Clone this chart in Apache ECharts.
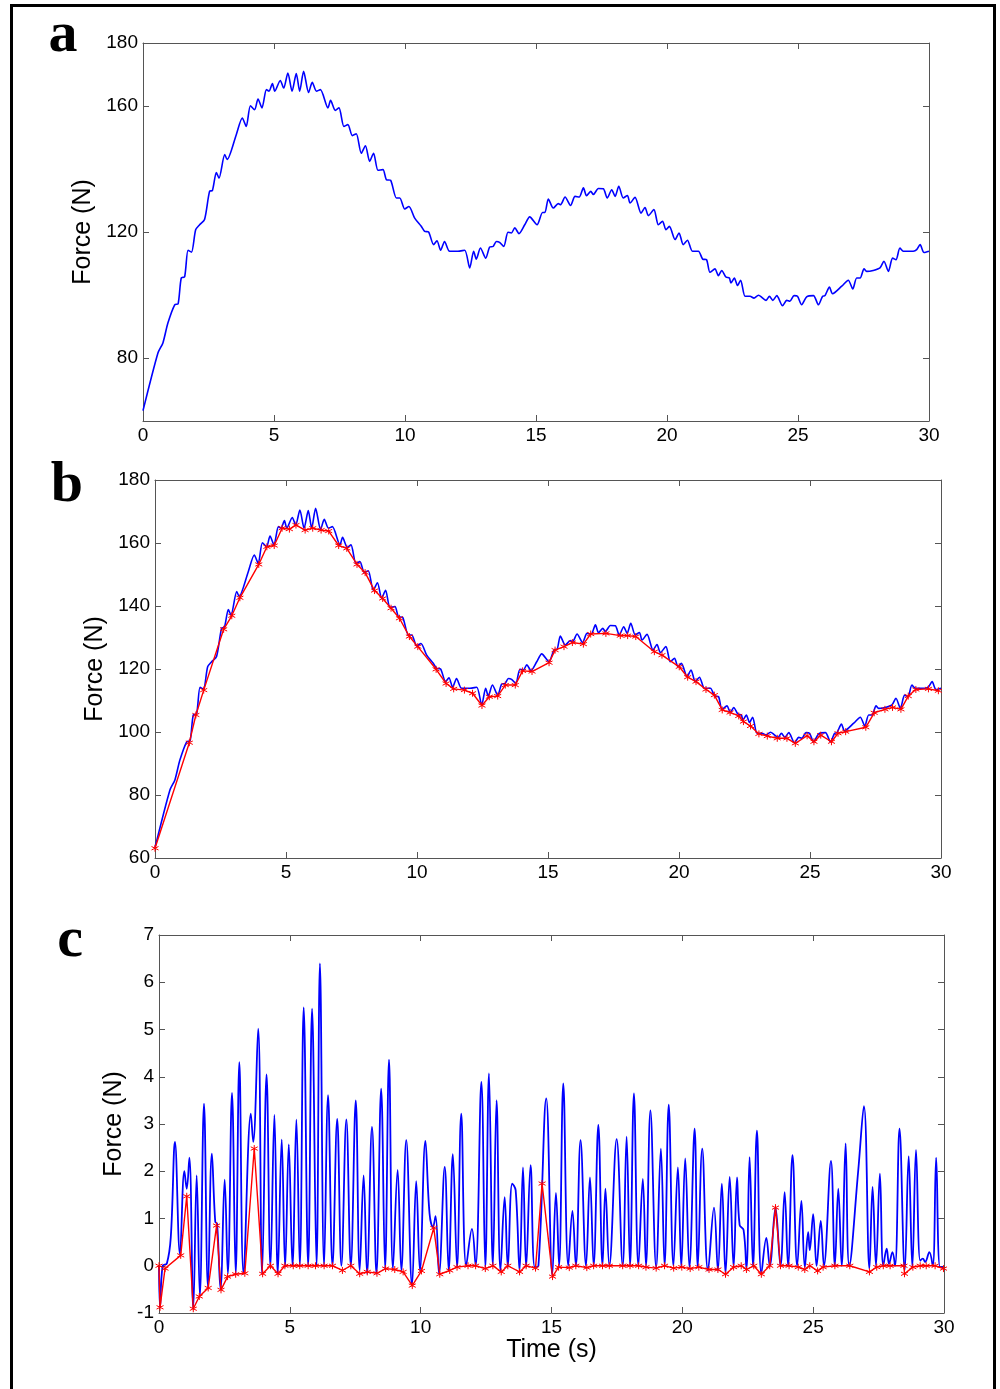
<!DOCTYPE html>
<html>
<head>
<meta charset="utf-8">
<script src="https://cdn.jsdelivr.net/npm/echarts@6/dist/echarts.min.js"></script>
<style>
html,body{margin:0;padding:0;background:#fff;}
#chart{width:1000px;height:1389px;}
</style>
</head>
<body>
<div id="chart"></div>
<script>
// ---- Data ----
const xTicks = [0, 5, 10, 15, 20, 25, 30];
const aTickLabels = [80, 120, 160, 180];

// Measured force (blue), panels a and b
const forceTime = [0,0.57,0.76,0.95,1.21,1.34,1.46,1.59,1.72,1.85,2.01,2.16,2.35,2.54,2.65,2.80,2.90,3.12,3.21,3.56,3.79,3.94,4.10,4.26,4.39,4.54,4.71,4.81,4.94,5.03,5.24,5.37,5.53,5.69,5.85,5.98,6.13,6.32,6.46,6.62,6.77,7.06,7.16,7.34,7.48,7.67,7.82,7.99,8.14,8.33,8.49,8.65,8.80,8.97,9.16,9.29,9.45,9.67,9.80,9.99,10.15,10.37,10.62,10.75,10.90,11.09,11.22,11.36,11.51,11.70,12.02,12.28,12.47,12.62,12.72,12.88,13.08,13.23,13.36,13.49,13.61,13.77,13.93,14.06,14.19,14.35,14.57,14.76,15.04,15.25,15.34,15.47,15.66,15.85,15.94,16.11,16.32,16.49,16.65,16.81,16.93,17.09,17.19,17.38,17.57,17.72,17.89,18.02,18.16,18.33,18.49,18.59,18.78,19.01,19.16,19.29,19.50,19.67,19.83,19.96,20.09,20.31,20.46,20.62,20.78,20.97,21.20,21.36,21.51,21.64,21.83,21.96,22.09,22.25,22.38,22.44,22.57,22.69,22.81,22.98,23.17,23.32,23.49,23.78,23.91,24.04,24.19,24.41,24.57,24.69,24.85,24.98,25.14,25.33,25.59,25.78,25.94,26.03,26.20,26.32,26.67,26.92,27.09,27.24,27.37,27.52,27.62,27.87,28.13,28.28,28.45,28.61,28.74,28.89,29.02,29.40,29.53,29.66,29.81,30.0];
const forceValue = [63.3,81.6,84.8,91.1,96.9,97.2,105.4,105.8,114.2,113.6,120.7,122.3,124,132.9,133.2,138.9,137.1,144.6,143,150.9,156.2,153.5,160.1,158.8,162.2,159.4,165.2,164.7,167.1,164.7,168.1,165.7,170.5,164.7,170.3,164.7,171,164.3,167.5,164.7,165.2,159.4,161.8,158.6,159.4,153.5,154.1,150.6,151.2,145,147.4,142.4,145,139.6,139.8,136.6,136.4,130.8,130.8,127.3,128.1,124.4,121.8,120.2,120,116,117.2,114.2,117,113.9,113.9,114.2,108.6,113.9,111.4,114.9,111.7,115.2,115.4,117,116.7,115.4,119.9,119.7,121.3,119.5,122.3,124.8,122.3,126.2,126.2,130.5,127.6,129,128.7,131.1,128.4,131.3,131.1,134,131.5,132.9,131.9,133.8,133.7,130.8,133.4,131.3,134.5,130.8,131.6,129.2,131,126,127.8,125.2,127.1,122.3,123.4,120.7,121.8,117.6,119.7,116,117.4,113.9,113.9,111.4,111.2,107.2,108.3,106.1,107.8,105.7,105.4,103.8,105.4,103,104.7,99.6,99.6,99,99.9,98.3,99.6,98.3,99.8,96.6,98.3,98,99.8,99.6,96.9,99.4,99.8,96.9,99.6,99.8,102.5,100.4,102.8,104.7,101.9,105.4,105.4,108.3,107.5,107.8,108.6,110.7,107.5,111.7,111.2,114.9,113.9,113.9,114.4,116,113.5,113.9];

// Lower envelope (red stars), panel b
const envTime = [0,1.31,1.56,1.86,2.62,2.93,3.24,3.96,4.27,4.55,4.85,5.13,5.38,5.73,6.02,6.34,6.63,7.01,7.32,7.71,8.02,8.38,8.69,9.01,9.33,9.71,10.03,10.73,11.11,11.40,11.81,12.12,12.48,12.76,13.08,13.37,13.75,14.03,14.39,15.04,15.27,15.61,15.93,16.35,16.63,17.21,17.76,18.04,18.35,19.06,19.35,20.01,20.33,20.65,21.03,21.35,21.65,21.95,22.28,22.46,22.73,23.05,23.37,23.75,24.12,24.44,24.89,25.15,25.41,25.82,26.07,26.36,27.13,27.45,27.86,28.15,28.47,28.75,29.04,29.52,29.90];
const envValue = [63.1,96.6,105.4,113.3,132.6,136.9,142.6,153.2,158.8,159.2,164.7,164.4,165.7,164.1,164.7,164.1,163.8,159.2,158.3,153.2,150.6,144.9,142.4,139.3,136.1,130.3,127.1,119.9,115.4,113.7,113.3,112.3,108.4,111.2,111.4,114.9,114.9,119.4,119.2,122,126,127.1,128.4,127.9,131.1,131.3,130.6,130.6,130.3,125.5,124.4,120.7,117.4,116,113.5,111.7,107,106.2,105.1,103.3,101.9,99.4,98.7,98,98,96.4,98.8,96.9,99,96.9,99.6,100.1,101.5,106.1,107.2,107.8,107.2,111.4,113.5,113.7,113.1];

// Oscillation (blue), panel c
const oscTime = [0,0.04,0.14,0.30,0.45,0.61,0.80,0.97,1.06,1.16,1.31,1.44,1.56,1.72,1.87,2.02,2.15,2.22,2.35,2.51,2.63,2.79,2.93,3.07,3.23,3.51,3.60,3.79,3.94,4.11,4.26,4.41,4.54,4.69,4.82,4.96,5.10,5.25,5.38,5.53,5.70,5.85,6.02,6.15,6.31,6.46,6.63,6.81,6.97,7.16,7.33,7.52,7.67,7.82,7.95,8.14,8.31,8.49,8.64,8.79,8.94,9.12,9.26,9.45,9.67,9.83,9.97,10.18,10.34,10.47,10.57,10.70,10.92,11.07,11.23,11.39,11.55,11.74,11.96,12.10,12.32,12.47,12.61,12.76,12.90,13.05,13.21,13.33,13.50,13.63,13.78,13.91,14.03,14.20,14.36,14.50,14.80,15.03,15.17,15.29,15.45,15.64,15.80,15.93,16.11,16.32,16.47,16.61,16.79,16.95,17.06,17.21,17.49,17.72,17.87,18.00,18.15,18.32,18.49,18.61,18.78,19.00,19.18,19.32,19.48,19.66,19.83,19.96,20.11,20.27,20.47,20.59,20.76,20.98,21.21,21.36,21.51,21.65,21.81,21.96,22.09,22.19,22.34,22.45,22.57,22.70,22.85,23.02,23.21,23.34,23.56,23.75,23.91,24.04,24.21,24.39,24.55,24.68,24.81,24.87,25.00,25.13,25.29,25.41,25.68,25.83,25.96,26.09,26.24,26.38,26.72,26.94,27.15,27.27,27.40,27.55,27.68,27.81,27.90,28.03,28.13,28.30,28.50,28.65,28.79,28.93,29.09,29.19,29.28,29.44,29.57,29.70,29.85,30.0];
const oscValue = [0,-0.88,0,0.05,0.6,2.62,0.25,2.0,1.63,2.29,-0.91,1.91,-0.63,3.43,-0.45,2.37,0.93,0.89,-0.49,1.82,-0.17,3.66,-0.17,4.31,-0.17,3.22,2.62,5.02,-0.17,4.05,-0.03,3.19,-0.17,2.67,-0.03,2.57,0,3.09,0,5.47,0,5.44,0,6.40,0,3.61,0,3.11,0,3.10,0,3.50,-0.1,1.91,-0.17,2.94,-0.17,3.75,-0.06,4.36,-0.06,2.03,-0.1,2.66,-0.42,1.79,-0.1,2.64,1.10,0.82,1.05,-0.17,2.09,-0.1,2.36,-0.03,3.22,0,0.78,0,3.89,-0.03,4.07,0,3.50,-0.1,1.45,-0.03,1.74,1.6,-0.1,2.08,-0.03,2.13,-0.03,0,3.54,-0.2,1.54,0,3.86,0,1.16,0,2.66,0,1.87,0,2.98,0,1.63,0,2.68,0,2.73,0,3.65,0,1.84,0,3.29,-0.03,2.48,0,3.41,0,2.08,-0.03,2.27,-0.03,2.90,-0.03,2.48,-0.1,1.23,-0.1,1.74,-0.17,1.88,-0.03,1.87,0.86,0.76,-0.06,2.30,-0.03,2.86,-0.17,0.59,0,1.23,0,1.56,0,2.34,0,1.37,-0.03,0.71,0.33,1.09,0,0.95,0,2.22,0,1.63,0,2.59,0,2.0,3.38,-0.06,1.67,0,1.95,0,0.36,0.04,0.29,0,2.90,-0.1,2.32,-0.03,2.45,0.11,0.15,0.08,0.29,0,2.29,-0.03,-0.03];

// Residual envelope (red stars), panel c
const resTime = [0,0.04,0.23,0.83,1.06,1.31,1.54,1.88,2.20,2.37,2.62,2.93,3.28,3.64,3.96,4.26,4.55,4.81,5.13,5.38,5.70,5.98,6.31,6.63,7.01,7.33,7.67,7.96,8.33,8.66,9.01,9.33,9.68,10.03,10.50,10.73,11.11,11.39,11.81,12.10,12.47,12.76,13.08,13.33,13.78,14.03,14.39,14.64,15.04,15.27,15.68,15.93,16.35,16.61,16.95,17.21,17.72,18.00,18.33,18.61,19.00,19.32,19.67,19.98,20.30,20.63,21.02,21.36,21.65,21.96,22.25,22.45,22.73,23.02,23.34,23.56,23.75,24.08,24.43,24.68,24.87,25.17,25.38,25.83,26.40,27.15,27.43,27.68,27.94,28.47,28.49,28.81,29.09,29.32,29.66,29.98];
const resValue = [0,-0.88,-0.06,0.22,1.47,-0.91,-0.65,-0.47,0.85,-0.51,-0.23,-0.18,-0.16,2.48,-0.17,0,-0.17,0,0,0,0,0,0,0,-0.1,0,-0.17,-0.13,-0.16,-0.06,-0.08,-0.13,-0.42,-0.11,0.80,-0.18,-0.1,-0.03,0,0,-0.06,0,-0.13,0,-0.13,0,-0.05,1.74,-0.23,-0.03,-0.04,0,-0.04,0,0,0,0,0,0,-0.03,-0.05,0,-0.05,-0.03,-0.06,-0.03,-0.08,-0.08,-0.18,-0.03,0,-0.08,0,-0.18,0,1.23,0,0,-0.03,-0.08,0,-0.11,-0.03,0,0,-0.13,-0.03,0,0,0,-0.17,-0.03,0,0,0,-0.06];

function pairs(t, v) { return t.map((x, i) => [x, v[i]]); }

// ---- Styling ----
const FONT = 'Liberation Sans';
const AXIS_COLOR = '#555';
const grids = [
  {left: 143, top: 43, width: 786, height: 378},
  {left: 155, top: 480, width: 786, height: 378},
  {left: 159, top: 935, width: 785, height: 378}
];

function xAxes(g, showName) {
  const base = {
    type: 'value', gridIndex: g, min: 0, max: 30, interval: 5,
    axisLine: {show: true, onZero: false, lineStyle: {color: AXIS_COLOR, width: 1}},
    axisTick: {show: true, inside: true, length: 6, lineStyle: {color: AXIS_COLOR}},
    splitLine: {show: false}
  };
  const bottom = Object.assign({}, base, {
    position: 'bottom',
    axisLabel: {show: true, color: '#000', fontFamily: FONT, fontSize: 19, margin: 5}
  });
  if (showName) {
    bottom.name = 'Time (s)';
    bottom.nameLocation = 'middle';
    bottom.nameGap = 24;
    bottom.nameTextStyle = {color: '#000', fontFamily: FONT, fontSize: 25};
  }
  const top = Object.assign({}, base, {position: 'top', axisLabel: {show: false}});
  return [bottom, top];
}

function yAxes(g, min, max, interval, labelVals, tickVals, nameGap) {
  const base = {
    type: 'value', gridIndex: g, min: min, max: max, interval: interval,
    axisLine: {show: true, onZero: false, lineStyle: {color: AXIS_COLOR, width: 1}},
    splitLine: {show: false}
  };
  const tick = {show: true, inside: true, length: 6, lineStyle: {color: AXIS_COLOR}};
  if (tickVals) tick.customValues = tickVals;
  const lbl = {show: true, color: '#000', fontFamily: FONT, fontSize: 19, margin: 5};
  if (labelVals) lbl.customValues = labelVals;
  const left = Object.assign({}, base, {
    position: 'left', axisTick: tick, axisLabel: lbl,
    name: 'Force (N)', nameLocation: 'middle', nameGap: nameGap,
    nameTextStyle: {color: '#000', fontFamily: FONT, fontSize: 25}
  });
  const right = Object.assign({}, base, {
    position: 'right', axisTick: tick, axisLabel: {show: false}
  });
  return [left, right];
}

const xAxis = [].concat(xAxes(0, false), xAxes(1, false), xAxes(2, true));
const yAxis = [].concat(
  yAxes(0, 60, 180, 20, aTickLabels, [80, 120, 160], 43),
  yAxes(1, 60, 180, 20, null, null, 42),
  yAxes(2, -1, 7, 1, null, null, 28)
);

const starPath = 'path://M5,0 L5,10 M0.67,2.5 L9.33,7.5 M0.67,7.5 L9.33,2.5';
const blueLine = {type: 'line', showSymbol: false, symbol: 'none', smooth: 0.25, lineStyle: {color: '#0000ff', width: 1.6}, itemStyle: {color: '#0000ff'}, animation: false, z: 2};
const redLine = {type: 'line', symbol: starPath, symbolSize: 7, showSymbol: true, showAllSymbol: true,
  lineStyle: {color: '#ff0000', width: 1.4}, itemStyle: {color: 'rgba(0,0,0,0)', borderColor: '#ff0000', borderWidth: 1}, animation: false, z: 3};

const series = [
  Object.assign({}, blueLine, {name: 'force a', xAxisIndex: 0, yAxisIndex: 0, data: pairs(forceTime, forceValue)}),
  Object.assign({}, blueLine, {name: 'force b', xAxisIndex: 2, yAxisIndex: 2, data: pairs(forceTime, forceValue)}),
  Object.assign({}, redLine, {name: 'envelope b', xAxisIndex: 2, yAxisIndex: 2, data: pairs(envTime, envValue)}),
  Object.assign({}, blueLine, {name: 'oscillation c', xAxisIndex: 4, yAxisIndex: 4, smooth: 0.4, lineStyle: {color: '#0000ff', width: 1.8}, data: pairs(oscTime, oscValue)}),
  Object.assign({}, redLine, {name: 'residual c', xAxisIndex: 4, yAxisIndex: 4, data: pairs(resTime, resValue)})
];

const letterStyle = {fill: '#000', fontFamily: 'Liberation Serif', fontWeight: 'bold', fontSize: 58, textAlign: 'center', textVerticalAlign: 'middle'};
const graphic = [
  {type: 'rect', shape: {x: 11.5, y: 5.5, width: 983, height: 1400}, style: {fill: 'none', stroke: '#000', lineWidth: 3}, silent: true},
  {type: 'text', x: 63, y: 36, style: Object.assign({text: 'a'}, letterStyle)},
  {type: 'text', x: 67, y: 486, style: Object.assign({text: 'b'}, letterStyle)},
  {type: 'text', x: 70, y: 941, style: Object.assign({text: 'c'}, letterStyle)}
];

const chart = echarts.init(document.getElementById('chart'), null, {renderer: 'canvas'});
chart.setOption({
  backgroundColor: '#fff',
  animation: false,
  grid: grids,
  xAxis: xAxis,
  yAxis: yAxis,
  series: series,
  graphic: graphic
});
</script>
</body>
</html>
